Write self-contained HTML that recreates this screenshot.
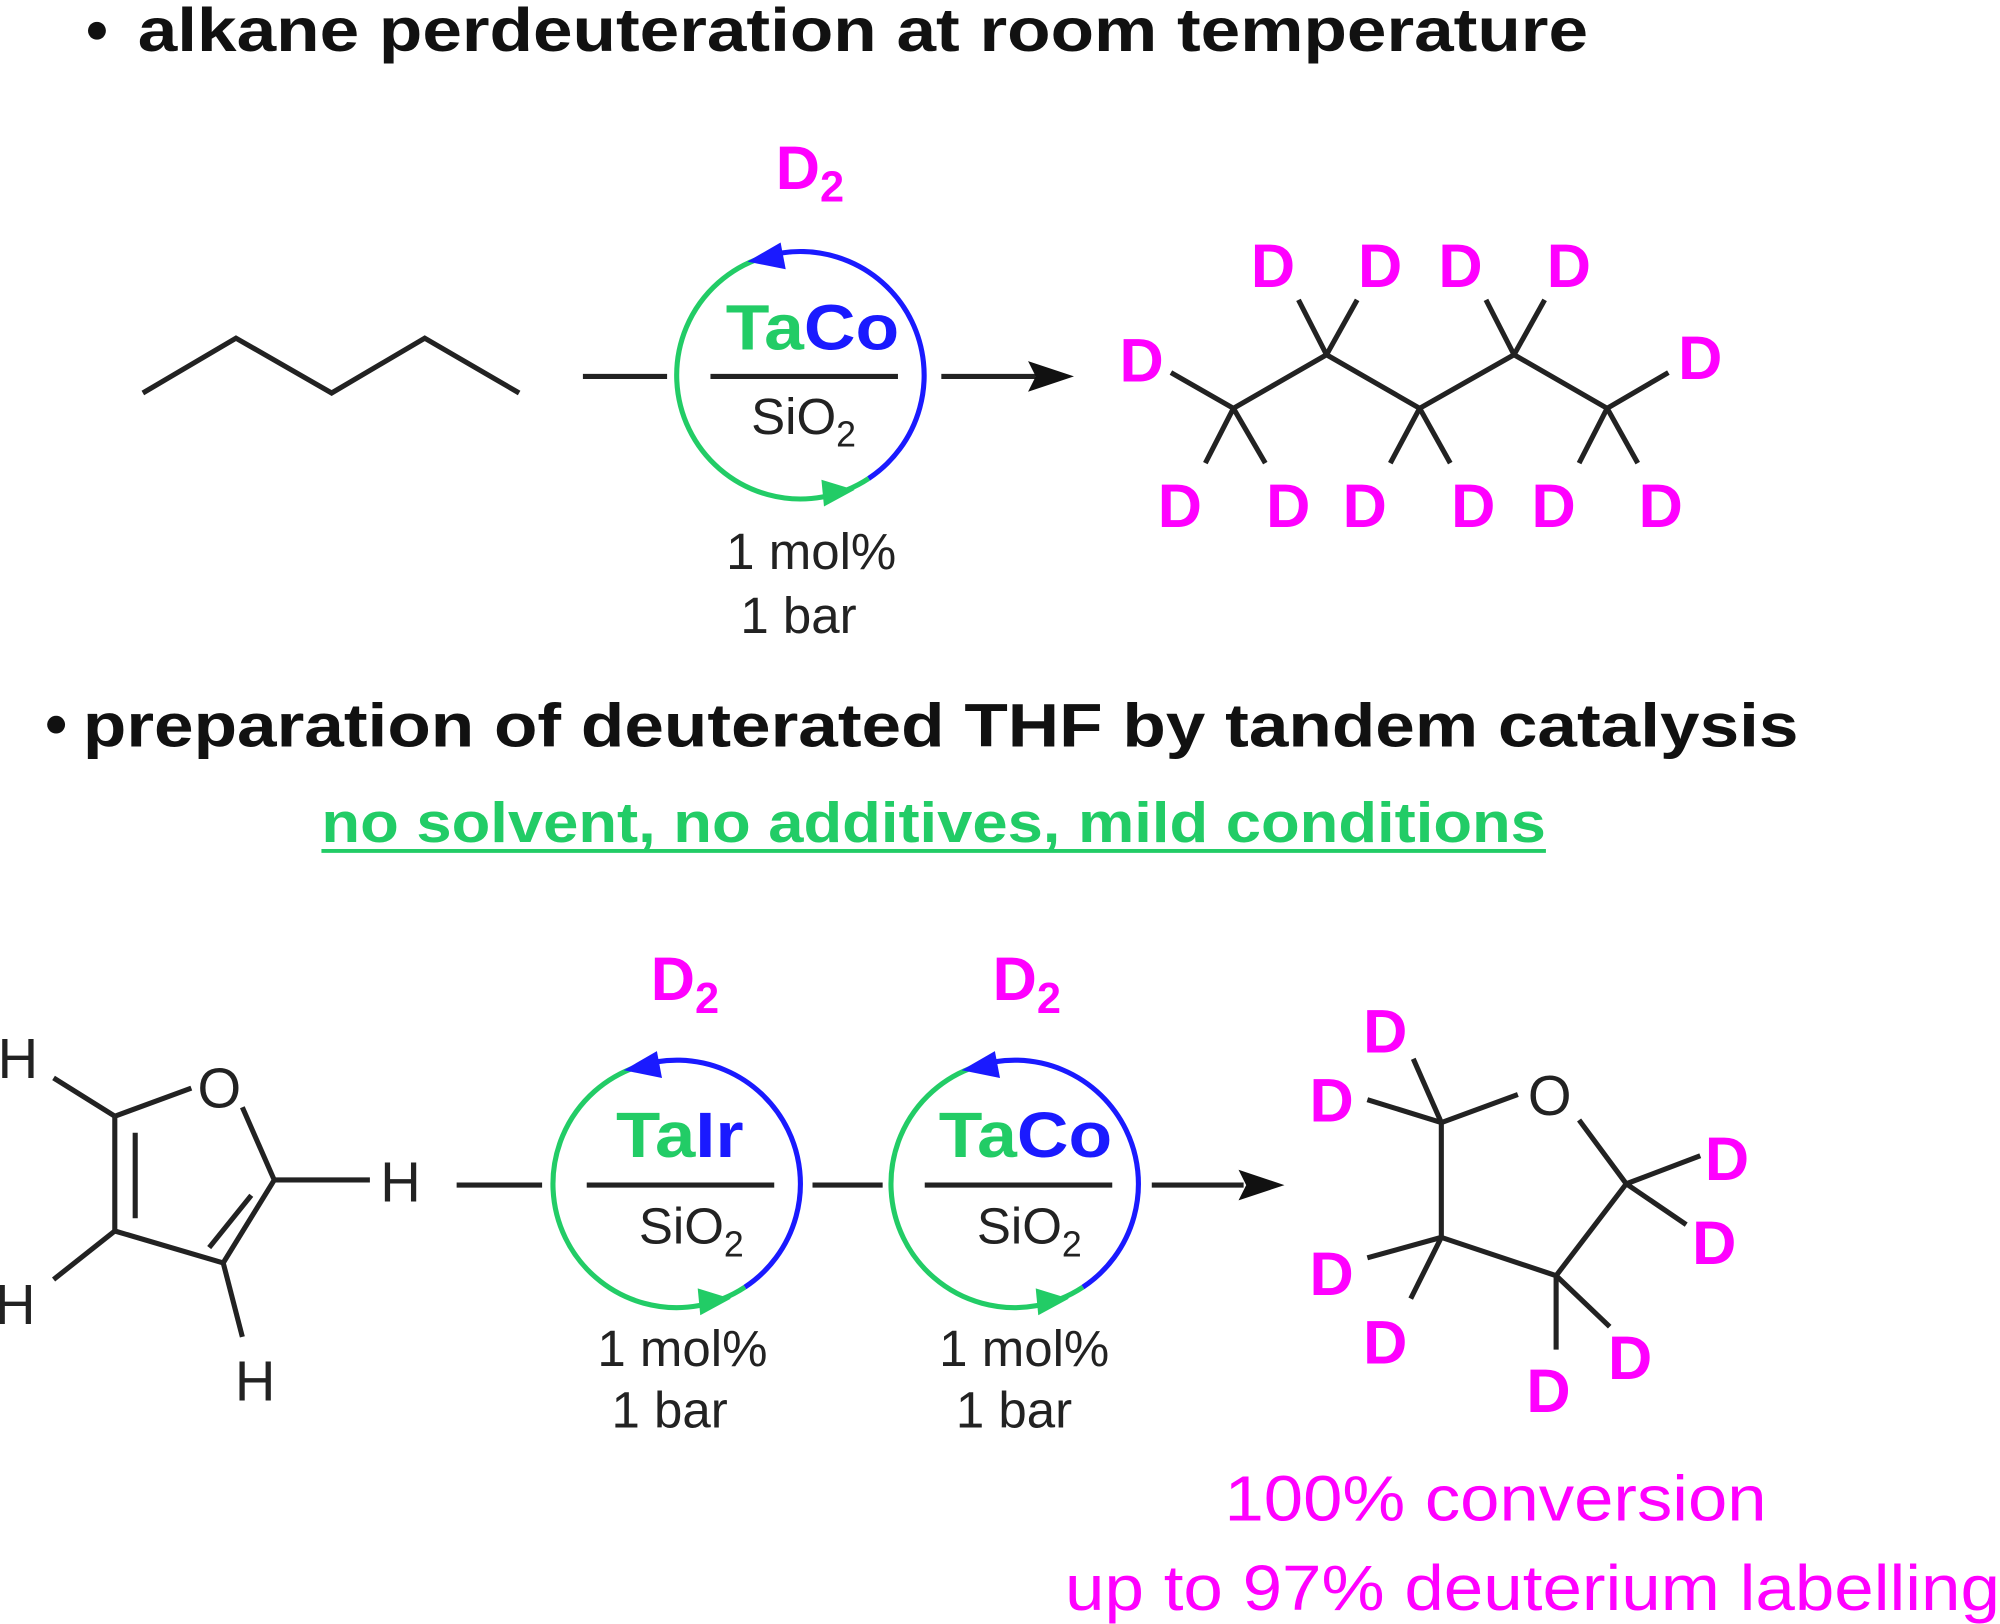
<!DOCTYPE html>
<html><head><meta charset="utf-8"><style>
html,body{margin:0;padding:0;background:#fff}
svg{display:block}
text{font-family:"Liberation Sans",Arial,sans-serif}
.b{font-weight:bold}
.m{fill:#f0f}
.g{fill:#22cc66}
.bl{fill:#1a1aff}
.k{fill:#222}
</style></head><body>
<svg width="2000" height="1624" viewBox="0 0 1568 1273" xmlns="http://www.w3.org/2000/svg">
<rect width="1568" height="1273" fill="#fff"/>
<defs>
<g id="cyc">
<path d="M-33,-91 A97 97 0 0 1 51,82" fill="none" stroke="#1a1aff" stroke-width="4"/>
<path d="M51,82 A97 97 0 1 1 -33,-91" fill="none" stroke="#22cc66" stroke-width="4"/>
<polygon points="-44,-88 -18,-103 -14,-82" fill="#1a1aff"/>
<polygon points="40,91 14,83 16,104" fill="#22cc66"/>
<line x1="-73" y1="2" x2="74" y2="2" stroke="#222" stroke-width="4"/>
</g>
</defs>

<!-- titles -->
<circle cx="76" cy="24" r="7" fill="#111"/>
<text x="108" y="40" class="b" font-size="48" fill="#111" textLength="1137" lengthAdjust="spacingAndGlyphs">alkane perdeuteration at room temperature</text>
<circle cx="44" cy="568" r="7" fill="#111"/>
<text x="65" y="585" class="b" font-size="48" fill="#111" textLength="1345" lengthAdjust="spacingAndGlyphs">preparation of deuterated THF by tandem catalysis</text>
<text x="252" y="660" class="b g" font-size="44" textLength="960" lengthAdjust="spacingAndGlyphs">no solvent, no additives, mild conditions</text>
<line x1="252" y1="667" x2="1212" y2="667" stroke="#22cc66" stroke-width="3"/>

<!-- reaction 1 -->
<g stroke="#222" stroke-width="4" fill="none" stroke-linejoin="miter">
<polyline points="112,308 185,265 260,308 333,265 407,308"/>
<line x1="457" y1="295" x2="523" y2="295"/>
<line x1="738" y1="295" x2="812" y2="295"/>
<polyline points="918,292 967,320 1040,278 1113,320 1187,278 1260,320 1308,292"/>
<line x1="967" y1="320" x2="945" y2="363"/>
<line x1="967" y1="320" x2="992" y2="363"/>
<line x1="1040" y1="278" x2="1018" y2="235"/>
<line x1="1040" y1="278" x2="1064" y2="235"/>
<line x1="1113" y1="320" x2="1090" y2="363"/>
<line x1="1113" y1="320" x2="1137" y2="363"/>
<line x1="1187" y1="278" x2="1165" y2="235"/>
<line x1="1187" y1="278" x2="1211" y2="235"/>
<line x1="1260" y1="320" x2="1238" y2="363"/>
<line x1="1260" y1="320" x2="1284" y2="363"/>
</g>
<polygon points="842,295 806,283 812,295 806,307" fill="#111"/>
<use href="#cyc" x="630" y="293"/>
<text x="569" y="274" class="b" font-size="50" textLength="136" lengthAdjust="spacingAndGlyphs"><tspan class="g">Ta</tspan><tspan class="bl">Co</tspan></text>
<text x="630" y="340" class="k" font-size="40" text-anchor="middle">SiO<tspan font-size="28" dy="10">2</tspan></text>
<text x="635" y="148" class="b m" font-size="48" text-anchor="middle">D<tspan font-size="34" dy="10">2</tspan></text>
<text x="636" y="446" class="k" font-size="40" text-anchor="middle">1 mol%</text>
<text x="626" y="496" class="k" font-size="40" text-anchor="middle">1 bar</text>

<g class="b m" font-size="48" text-anchor="middle">
<text x="895" y="299">D</text>
<text x="1333" y="297">D</text>
<text x="998" y="225">D</text><text x="1082" y="225">D</text>
<text x="1145" y="225">D</text><text x="1230" y="225">D</text>
<text x="925" y="413">D</text><text x="1010" y="413">D</text>
<text x="1070" y="413">D</text><text x="1155" y="413">D</text>
<text x="1218" y="413">D</text><text x="1302" y="413">D</text>
</g>

<!-- reaction 2: furan -->
<g stroke="#222" stroke-width="4" fill="none">
<line x1="42" y1="845" x2="90" y2="875"/>
<line x1="90" y1="875" x2="150" y2="853"/>
<line x1="190" y1="868" x2="215" y2="925"/>
<line x1="215" y1="925" x2="290" y2="925"/>
<line x1="215" y1="925" x2="175" y2="990"/>
<line x1="197" y1="937" x2="164" y2="978"/>
<line x1="175" y1="990" x2="90" y2="965"/>
<line x1="90" y1="965" x2="90" y2="875"/>
<line x1="106" y1="955" x2="106" y2="888"/>
<line x1="90" y1="965" x2="42" y2="1003"/>
<line x1="175" y1="990" x2="190" y2="1048"/>
<line x1="358" y1="929" x2="425" y2="929"/>
<line x1="637" y1="929" x2="692" y2="929"/>
<line x1="903" y1="929" x2="975" y2="929"/>
</g>
<g class="k" font-size="44" text-anchor="middle">
<text x="172" y="868">O</text>
<text x="14" y="845">H</text>
<text x="314" y="942">H</text>
<text x="12" y="1038">H</text>
<text x="200" y="1098">H</text>
</g>
<polygon points="1007,929 971,917 977,929 971,941" fill="#111"/>

<use href="#cyc" x="533" y="927"/>
<text x="483" y="907" class="b" font-size="50" textLength="100" lengthAdjust="spacingAndGlyphs"><tspan class="g">Ta</tspan><tspan class="bl">Ir</tspan></text>
<text x="542" y="975" class="k" font-size="40" text-anchor="middle">SiO<tspan font-size="28" dy="10">2</tspan></text>
<text x="537" y="784" class="b m" font-size="48" text-anchor="middle">D<tspan font-size="34" dy="10">2</tspan></text>
<text x="535" y="1071" class="k" font-size="40" text-anchor="middle">1 mol%</text>
<text x="525" y="1119" class="k" font-size="40" text-anchor="middle">1 bar</text>

<use href="#cyc" x="798" y="927"/>
<text x="736" y="907" class="b" font-size="50" textLength="136" lengthAdjust="spacingAndGlyphs"><tspan class="g">Ta</tspan><tspan class="bl">Co</tspan></text>
<text x="807" y="975" class="k" font-size="40" text-anchor="middle">SiO<tspan font-size="28" dy="10">2</tspan></text>
<text x="805" y="784" class="b m" font-size="48" text-anchor="middle">D<tspan font-size="34" dy="10">2</tspan></text>
<text x="803" y="1071" class="k" font-size="40" text-anchor="middle">1 mol%</text>
<text x="795" y="1119" class="k" font-size="40" text-anchor="middle">1 bar</text>

<!-- THF-d8 -->
<g stroke="#222" stroke-width="4" fill="none">
<line x1="1130" y1="880" x2="1190" y2="858"/>
<line x1="1238" y1="878" x2="1275" y2="928"/>
<line x1="1275" y1="928" x2="1220" y2="1000"/>
<line x1="1220" y1="1000" x2="1130" y2="970"/>
<line x1="1130" y1="970" x2="1130" y2="880"/>
<line x1="1130" y1="880" x2="1108" y2="830"/>
<line x1="1130" y1="880" x2="1072" y2="862"/>
<line x1="1275" y1="928" x2="1333" y2="906"/>
<line x1="1275" y1="928" x2="1322" y2="960"/>
<line x1="1130" y1="970" x2="1072" y2="986"/>
<line x1="1130" y1="970" x2="1106" y2="1018"/>
<line x1="1220" y1="1000" x2="1220" y2="1058"/>
<line x1="1220" y1="1000" x2="1262" y2="1040"/>
</g>
<text x="1215" y="874" class="k" font-size="44" text-anchor="middle">O</text>
<g class="b m" font-size="48" text-anchor="middle">
<text x="1086" y="825">D</text>
<text x="1044" y="879">D</text>
<text x="1354" y="925">D</text>
<text x="1344" y="991">D</text>
<text x="1044" y="1015">D</text>
<text x="1086" y="1069">D</text>
<text x="1214" y="1107">D</text>
<text x="1278" y="1081">D</text>
</g>
<text x="960" y="1192" class="m" font-size="50" textLength="425" lengthAdjust="spacingAndGlyphs">100% conversion</text>
<text x="835" y="1262" class="m" font-size="50" textLength="733" lengthAdjust="spacingAndGlyphs">up to 97% deuterium labelling</text>
</svg>
</body></html>
